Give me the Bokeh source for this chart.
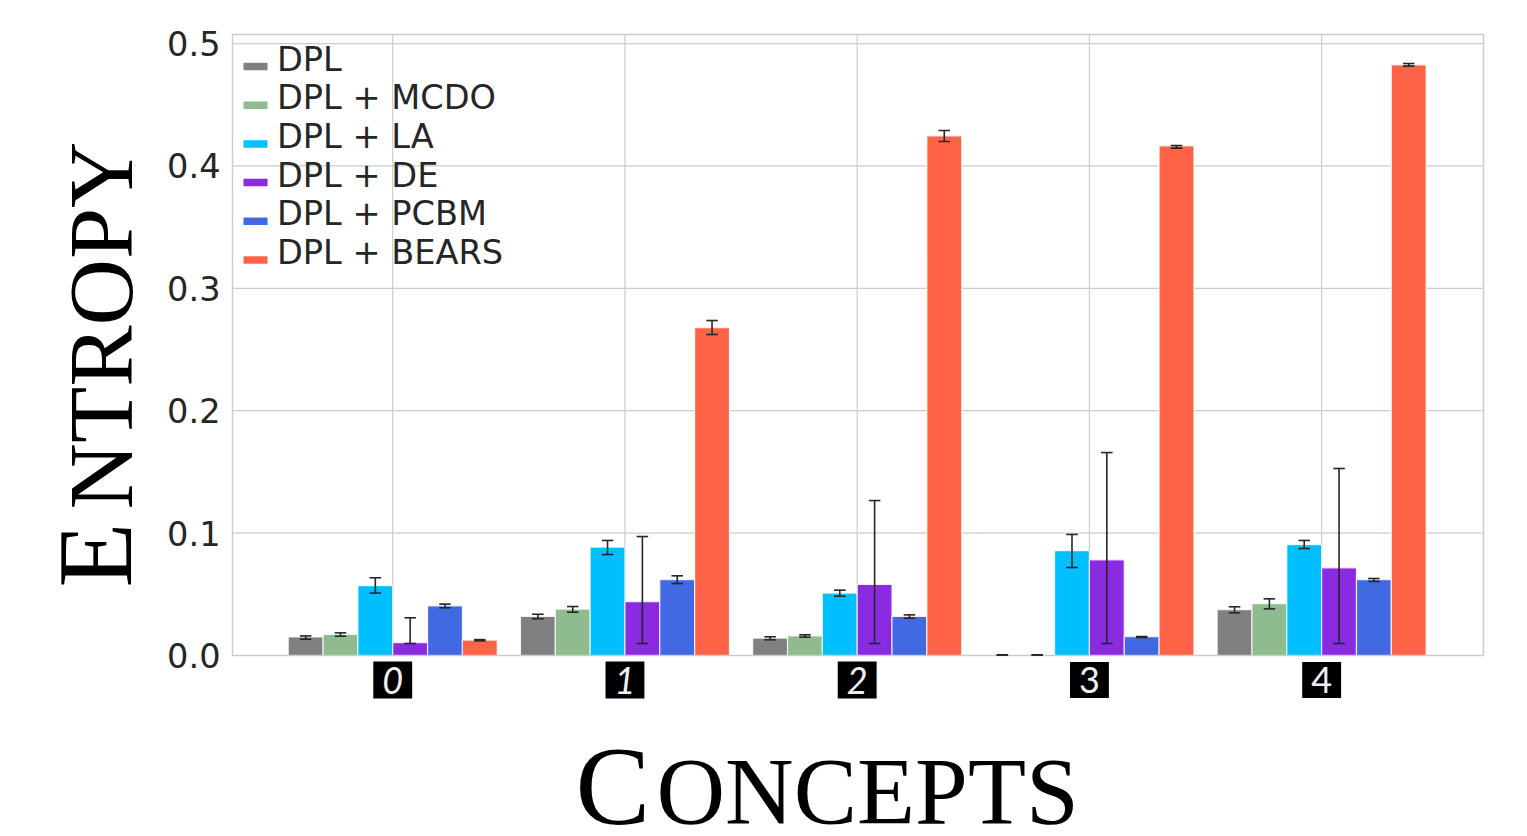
from bokeh.plotting import figure
from bokeh.models import ColumnDataSource, Whisker, Range1d, FixedTicker, Label, NumeralTickFormatter, BoxAnnotation
from bokeh.embed import file_html
from bokeh.resources import INLINE
import math

categories = ["0", "1", "2", "3", "4"]
category_styles = ["italic", "italic", "italic", "normal", "normal"]
series = ["DPL", "DPL + MCDO", "DPL + LA", "DPL + DE", "DPL + PCBM", "DPL + BEARS"]
colors = ["#808080", "#8fbc8f", "#00bfff", "#8a2be2", "#4169e1", "#ff6347"]

dpl = [0.0151, 0.0319, 0.0142, 0.0003, 0.0374]
dpl_lo = [0.0133, 0.0300, 0.0128, 0.0003, 0.0349]
dpl_hi = [0.0160, 0.0337, 0.0153, 0.0006, 0.0398]

mcdo = [0.0172, 0.0379, 0.0161, 0.0003, 0.0423]
mcdo_lo = [0.0158, 0.0354, 0.0150, 0.0003, 0.0381]
mcdo_hi = [0.0185, 0.0400, 0.0169, 0.0006, 0.0463]

la = [0.0570, 0.0886, 0.0510, 0.0856, 0.0905]
la_lo = [0.0510, 0.0825, 0.0485, 0.0719, 0.0874]
la_hi = [0.0635, 0.0940, 0.0534, 0.0989, 0.0940]

de = [0.0104, 0.0439, 0.0580, 0.0782, 0.0716]
de_lo = [0.0098, 0.0098, 0.0098, 0.0098, 0.0098]
de_hi = [0.0308, 0.0972, 0.1266, 0.1658, 0.1528]

pcbm = [0.0406, 0.0619, 0.0319, 0.0153, 0.0619]
pcbm_lo = [0.0390, 0.0588, 0.0305, 0.0147, 0.0605]
pcbm_hi = [0.0420, 0.0651, 0.0332, 0.0155, 0.0629]

bears = [0.0126, 0.2678, 0.4246, 0.4164, 0.4826]
bears_lo = [0.0120, 0.2623, 0.4200, 0.4146, 0.4816]
bears_hi = [0.0130, 0.2737, 0.4290, 0.4167, 0.4837]

y_ticks = [0.0, 0.1, 0.2, 0.3, 0.4, 0.5]

all_vals = [dpl, mcdo, la, de, pcbm, bears]
all_lo = [dpl_lo, mcdo_lo, la_lo, de_lo, pcbm_lo, bears_lo]
all_hi = [dpl_hi, mcdo_hi, la_hi, de_hi, pcbm_hi, bears_hi]

# Axes box in data units, and its margins on the canvas in pixels.
X0, X1 = -0.69, 4.697
Y0, Y1 = 0.0, 0.5074
W, H = 1519, 828
LEFT, RIGHT, TOP, BOTTOM = 232, 36, 34, 173
PX_X = (W - LEFT - RIGHT) / (X1 - X0)
PX_Y = (H - TOP - BOTTOM) / (Y1 - Y0)
TEXT = "#262626"
GRID = "#cccccc"
INK = "#262626"
BASE = 0.354  # Label's alphabetic baseline sits this many font sizes below its anchor

# The plot frame fills the canvas, so that the axis titles and the digit tiles
# are not clipped; the visible axes box is drawn inside it.
p = figure(width=W, height=H, output_backend="svg", toolbar_location=None,
           x_range=Range1d(X0 - LEFT / PX_X, X1 + RIGHT / PX_X),
           y_range=Range1d(Y0 - BOTTOM / PX_Y, Y1 + TOP / PX_Y),
           min_border=0)
p.background_fill_color = "white"
p.border_fill_color = "white"
p.outline_line_color = None
p.grid.visible = False
p.xaxis.visible = False

p.yaxis.fixed_location = X0
p.yaxis.ticker = FixedTicker(ticks=y_ticks)
p.yaxis.formatter = NumeralTickFormatter(format="0.0")
p.yaxis.major_label_text_font = "DejaVu Sans"
p.yaxis.major_label_text_font_size = "33.6px"
p.yaxis.major_label_text_color = TEXT
p.yaxis.major_label_standoff = 6
p.yaxis.axis_line_color = None
p.yaxis.major_tick_line_color = None
p.yaxis.minor_tick_line_color = None

x_ticks = list(range(len(categories)))
p.segment(x0=x_ticks, x1=x_ticks, y0=[Y0] * len(x_ticks), y1=[Y1] * len(x_ticks),
          line_color=GRID, line_width=1.2, level="underlay")
p.segment(x0=[X0] * len(y_ticks), x1=[X1] * len(y_ticks), y0=y_ticks, y1=y_ticks,
          line_color=GRID, line_width=1.2, level="underlay")

n = len(series)
for i, name in enumerate(series):
    off = (i - (n - 1) / 2) * 0.15
    xs = [j + off for j in range(len(categories))]
    src = ColumnDataSource(dict(x=xs, top=all_vals[i], lo=all_lo[i], hi=all_hi[i]))
    p.vbar(x="x", top="top", bottom=0, width=0.15, source=src,
           fill_color=colors[i], line_color="white", line_width=1.2, line_alpha=0.8)
    w = Whisker(base="x", lower="lo", upper="hi", source=src, line_color=INK, line_width=1.6,
                level="overlay")
    for head in (w.upper_head, w.lower_head):
        head.size = 11.5
        head.line_color = INK
        head.line_width = 1.6
    p.add_layout(w)

p.add_layout(BoxAnnotation(left=X0, right=X1, bottom=Y0, top=Y1, fill_color=None,
                           line_color=GRID, line_alpha=1.0, line_width=1.5))

# Legend: the keys sit on the text's baseline, below its centre.
ROW = 38.7
LEGEND_SIZE = 33.6
for i, name in enumerate(series):
    key_y = Y1 - (32 + i * ROW) / PX_Y
    p.rect(x=[X0 + 23 / PX_X], y=[key_y], width=24, height=7.5, width_units="screen",
           height_units="screen", fill_color=colors[i], line_color=None)
    p.add_layout(Label(x=X0, y=Y1, x_offset=44.5, y_offset=-(36.5 + i * ROW) + BASE * LEGEND_SIZE, text=name,
                       text_font="DejaVu Sans", text_font_size=f"{LEGEND_SIZE}px", text_color=TEXT,
                       text_align="left", text_baseline="alphabetic"))

for i, c in enumerate(categories):
    p.add_layout(Label(x=i, y=Y0, y_offset=-24.5, text=c, text_align="center", text_baseline="middle",
                       text_color="#f0f0f0", text_font="Lato", text_font_style=category_styles[i],
                       text_font_size="36px", background_fill_color="black", padding=(9, 5)))

serif = "Liberation Serif"
def title_part(text, size, xo, yo, angle=0.0):
    p.add_layout(Label(x=X0, y=Y0, x_offset=xo, y_offset=yo, text=text, angle=angle,
                       text_font=serif, text_font_size=f"{size}px", text_color="black",
                       text_align="left", text_baseline="alphabetic"))

# Rotated: the baseline is a vertical line at x = 133; horizontal: at y = 825.
title_part("E", 106, 133 - LEFT - BASE * 106, 68, math.pi / 2)
title_part("NTROPY", 92, 133 - LEFT - BASE * 92, 146, math.pi / 2)
title_part("C", 112, 343, -170 + BASE * 112)
title_part("ONCEPTS", 95, 424, -170 + BASE * 95)

open("out.html", "w").write(file_html(p, INLINE))
